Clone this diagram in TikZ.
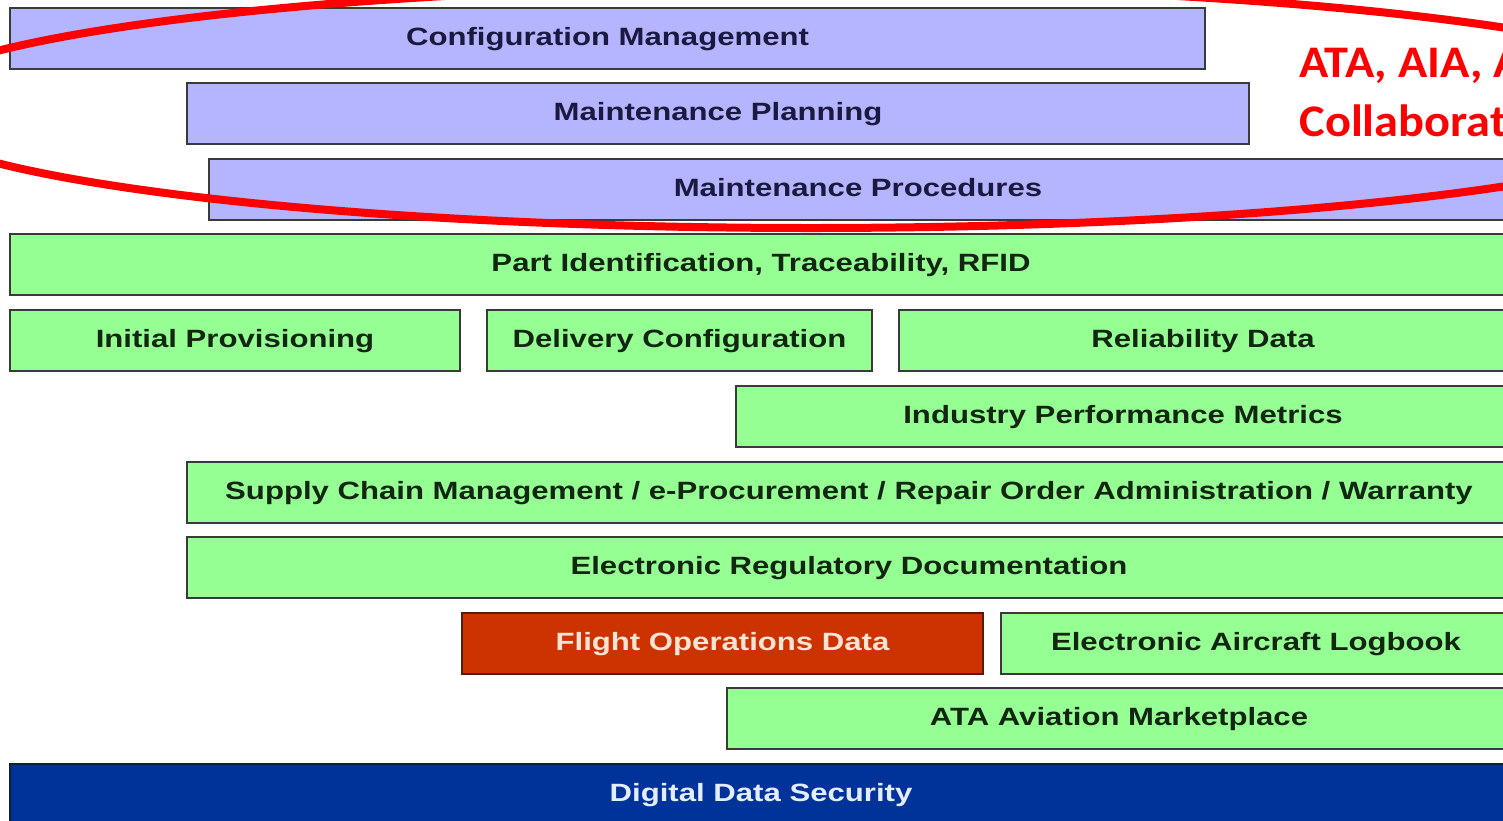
\documentclass[tikz,border=0pt]{standalone}
\usepackage{fontspec}
\newfontfamily\boxfont[FakeStretch=1.245]{Liberation Sans}
\newfontfamily\redfont[FakeStretch=1.07]{Carlito}
\definecolor{lav}{RGB}{180,180,255}
\definecolor{grn}{RGB}{150,255,148}
\definecolor{fodred}{RGB}{204,51,0}
\definecolor{secblue}{RGB}{0,51,153}
\definecolor{edge}{RGB}{58,58,58}
\begin{document}
\begin{tikzpicture}[x=0.5pt,y=-0.5pt,
  layer/.style={draw=edge,line width=1pt,anchor=north west,minimum height=30.5pt,
    inner sep=0pt,text height=9pt,text depth=2pt,font=\boxfont\bfseries\fontsize{12.5}{14}\selectfont},
  lavbox/.style={layer,fill=lav,text={rgb,255:red,26;green,26;blue,64}},
  grnbox/.style={layer,fill=grn,text={rgb,255:red,18;green,38;blue,18}}]
  \useasboundingbox (0,0) rectangle (1503,820);
  \clip (0,0) rectangle (1503,820);
  % top three layers
  \node[lavbox,minimum width=597.5pt] (conf) at (9,7) {Configuration Management};
  \node[lavbox,minimum width=531pt] (plan) at (186,82) {Maintenance Planning};
  \node[lavbox,minimum width=649pt] (proc) at (208,158) {Maintenance Procedures};
  % green layers
  \node[grnbox,minimum width=751pt] (part) at (9,233) {Part Identification, Traceability, RFID};
  \node[grnbox,minimum width=225pt] (prov) at (9,309) {Initial Provisioning};
  \node[grnbox,minimum width=192.5pt] (deliv) at (486,309) {Delivery Configuration};
  \node[grnbox,minimum width=304pt] (rel) at (898,309) {Reliability Data};
  \node[grnbox,minimum width=387pt] (ipm) at (735,385) {Industry Performance Metrics};
  \node[grnbox,minimum width=662pt] (scm) at (186,461) {Supply Chain Management / e-Procurement / Repair Order Administration / Warranty};
  \node[grnbox,minimum width=662pt] (reg) at (186,536) {Electronic Regulatory Documentation};
  \node[layer,fill=fodred,draw={rgb,255:red,80;green,30;blue,10},text={rgb,255:red,255;green,228;blue,214},minimum width=260.5pt] (fod) at (461,612) {Flight Operations Data};
  \node[grnbox,minimum width=255pt] (log) at (1000,612) {Electronic Aircraft Logbook};
  \node[grnbox,minimum width=392pt] (mkt) at (726,687) {ATA Aviation Marketplace};
  \node[layer,fill=secblue,draw={rgb,255:red,20;green,30;blue,60},text={rgb,255:red,228;green,236;blue,255},minimum width=751pt] (sec) at (9,763) {Digital Data Security};
  % red highlight
  \draw[red,line width=4pt] (811,107) ellipse [x radius=918,y radius=121];
  \node[red,anchor=base west,align=left,inner sep=0pt,font=\redfont\bfseries\fontsize{22.6}{29.5}\selectfont] (collab) at (1299,136) {ATA, AIA, A\\Collaborat};
\end{tikzpicture}
\end{document}
